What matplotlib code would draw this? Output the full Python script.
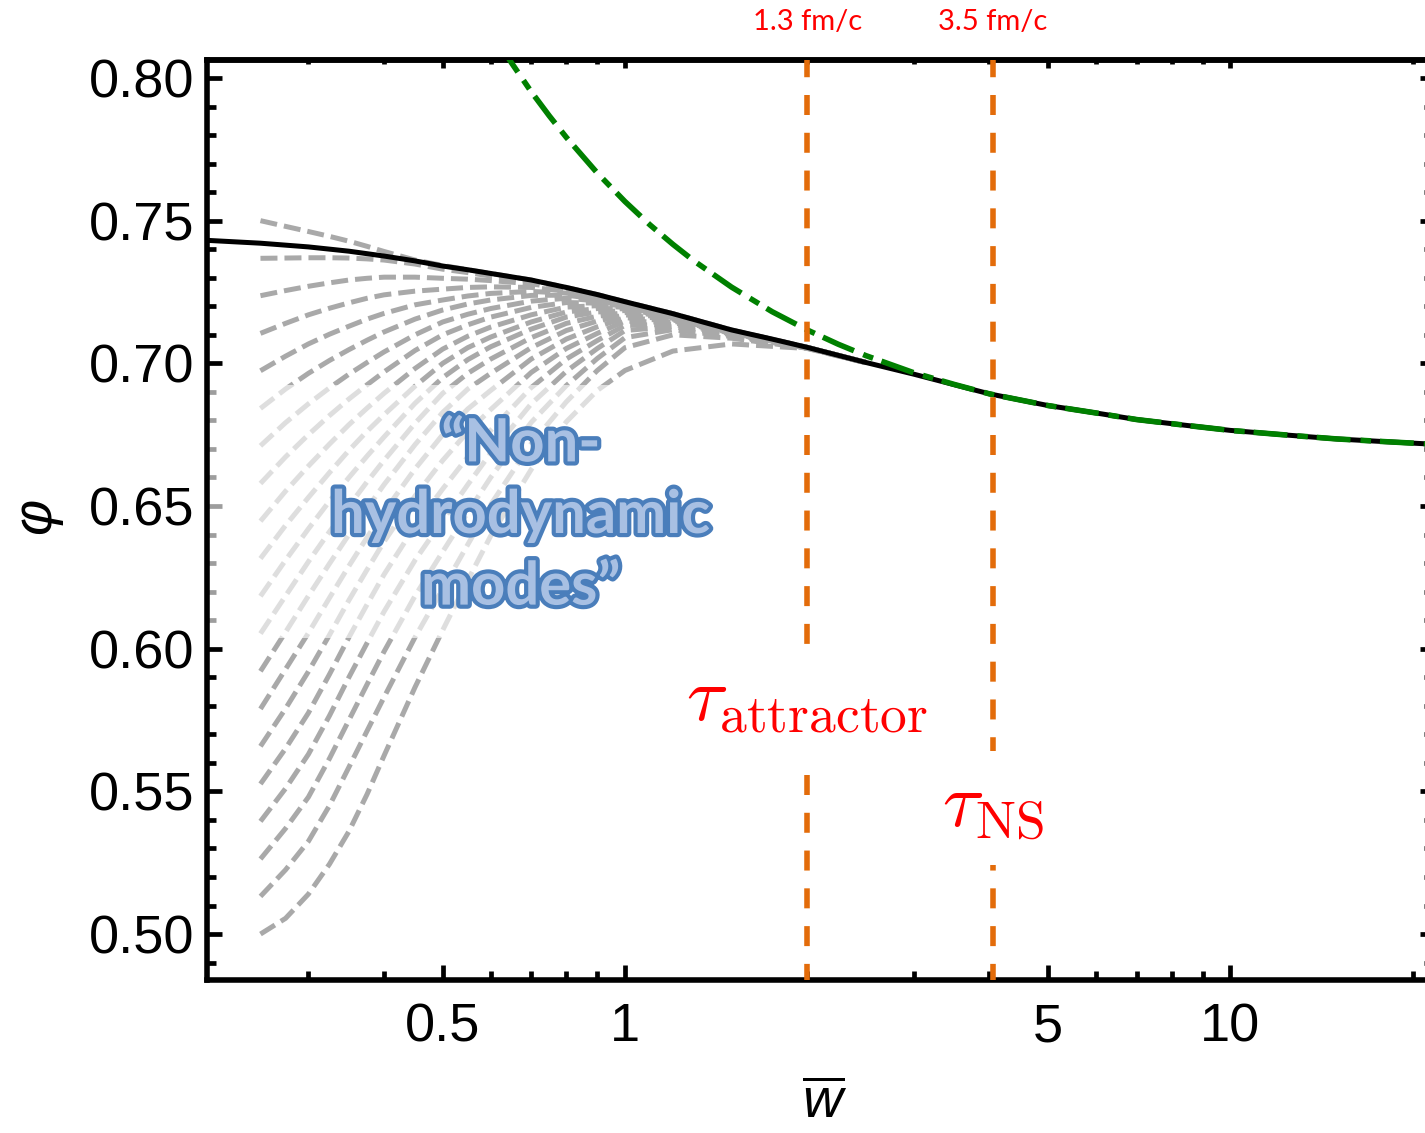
# phi vs w-bar: attractor, NS line and the non-hydro transients
import numpy as np
import matplotlib
matplotlib.use('Agg')
from matplotlib import pyplot as plt
from matplotlib import patheffects as pe
from matplotlib import transforms as mtrans
from matplotlib.patches import Rectangle
from matplotlib.ticker import FixedLocator, MultipleLocator, NullFormatter, FormatStrFormatter

plt.rcParams['font.family'] = ['Liberation Sans', 'DejaVu Sans']
plt.rcParams['mathtext.fontset'] = 'custom'
plt.rcParams['mathtext.it'] = 'Liberation Sans:italic'
plt.rcParams['mathtext.rm'] = 'Liberation Sans'

# --- data ---
w_att = [0.2, 0.25, 0.3, 0.35, 0.4, 0.45, 0.5, 0.55, 0.6, 0.7, 0.8, 0.9, 1.0, 1.2, 1.5,
         1.75, 2.0, 2.5, 3.0, 3.5, 4.0, 5.0, 6.0, 7.0, 8.5, 10.0, 12.5, 15.0, 17.5, 21.0]
phi_att = [0.7432, 0.7421, 0.7408, 0.7393, 0.7376, 0.7359, 0.7341, 0.7328, 0.7315,
           0.7292, 0.7266, 0.7241, 0.7216, 0.7174, 0.7117, 0.7085, 0.7056, 0.7003,
           0.6962, 0.6925, 0.6893, 0.6852, 0.6826, 0.6803, 0.6782, 0.6765, 0.6748,
           0.6735, 0.6727, 0.6718]

w_ns = [0.62, 0.65, 0.7, 0.75, 0.8, 0.9, 1.0, 1.1, 1.2, 1.3, 1.5, 1.75, 2.0, 2.25, 2.5,
        3.0, 3.5, 4.0, 5.0, 6.0, 7.0, 8.5, 10.0, 12.5, 15.0, 17.5, 21.0]
phi_ns = [0.8120, 0.8052, 0.7952, 0.7867, 0.7792, 0.7667, 0.7567, 0.7485, 0.7417,
          0.7359, 0.7267, 0.7181, 0.7117, 0.7067, 0.7027, 0.6967, 0.6926, 0.6893,
          0.6852, 0.6826, 0.6803, 0.6782, 0.6765, 0.6748, 0.6735, 0.6727, 0.6718]

w_grid = [0.25, 0.275, 0.3, 0.325, 0.35, 0.375, 0.4, 0.45, 0.5, 0.55, 0.6, 0.7, 0.8,
          0.9, 1.0, 1.2, 1.5, 2.0, 2.5]
gray_curves = [
    [0.7500, 0.7480, 0.7462, 0.7445, 0.7428, 0.7410, 0.7392, 0.7362, 0.7343, 0.7328, 0.7315, 0.7292, 0.7266, 0.7241, 0.7216, 0.7174, 0.7117, 0.7056, 0.7003],
    [0.7368, 0.7369, 0.7370, 0.7370, 0.7369, 0.7366, 0.7362, 0.7348, 0.7330, 0.7318, 0.7306, 0.7288, 0.7264, 0.7240, 0.7215, 0.7174, 0.7116, 0.7056, 0.7003],
    [0.7237, 0.7255, 0.7270, 0.7282, 0.7292, 0.7298, 0.7302, 0.7302, 0.7298, 0.7295, 0.7290, 0.7279, 0.7259, 0.7237, 0.7213, 0.7173, 0.7116, 0.7056, 0.7003],
    [0.7105, 0.7140, 0.7170, 0.7193, 0.7212, 0.7228, 0.7240, 0.7253, 0.7260, 0.7266, 0.7268, 0.7266, 0.7253, 0.7234, 0.7211, 0.7172, 0.7115, 0.7056, 0.7003],
    [0.6974, 0.7025, 0.7068, 0.7102, 0.7130, 0.7155, 0.7175, 0.7205, 0.7222, 0.7236, 0.7245, 0.7252, 0.7246, 0.7230, 0.7209, 0.7171, 0.7114, 0.7055, 0.7003],
    [0.6842, 0.6910, 0.6965, 0.7010, 0.7048, 0.7081, 0.7110, 0.7155, 0.7187, 0.7208, 0.7222, 0.7238, 0.7239, 0.7225, 0.7206, 0.7169, 0.7113, 0.7055, 0.7003],
    [0.6711, 0.6792, 0.6858, 0.6914, 0.6962, 0.7003, 0.7040, 0.7100, 0.7145, 0.7172, 0.7192, 0.7218, 0.7228, 0.7219, 0.7203, 0.7167, 0.7112, 0.7055, 0.7003],
    [0.6579, 0.6672, 0.6750, 0.6817, 0.6875, 0.6925, 0.6970, 0.7045, 0.7100, 0.7135, 0.7162, 0.7196, 0.7213, 0.7211, 0.7200, 0.7165, 0.7111, 0.7055, 0.7003],
    [0.6447, 0.6552, 0.6640, 0.6717, 0.6785, 0.6843, 0.6895, 0.6982, 0.7050, 0.7095, 0.7127, 0.7170, 0.7197, 0.7202, 0.7196, 0.7163, 0.7110, 0.7055, 0.7003],
    [0.6316, 0.6432, 0.6530, 0.6617, 0.6695, 0.6762, 0.6820, 0.6920, 0.7000, 0.7055, 0.7092, 0.7145, 0.7180, 0.7192, 0.7191, 0.7161, 0.7109, 0.7055, 0.7003],
    [0.6184, 0.6310, 0.6420, 0.6517, 0.6600, 0.6675, 0.6742, 0.6860, 0.6950, 0.7013, 0.7058, 0.7120, 0.7162, 0.7180, 0.7185, 0.7158, 0.7108, 0.7055, 0.7003],
    [0.6053, 0.6185, 0.6305, 0.6410, 0.6500, 0.6585, 0.6660, 0.6790, 0.6895, 0.6965, 0.7015, 0.7090, 0.7140, 0.7165, 0.7178, 0.7155, 0.7107, 0.7055, 0.7003],
    [0.5921, 0.6058, 0.6185, 0.6298, 0.6400, 0.6492, 0.6575, 0.6715, 0.6828, 0.6910, 0.6965, 0.7055, 0.7115, 0.7148, 0.7170, 0.7152, 0.7106, 0.7055, 0.7003],
    [0.5789, 0.5928, 0.6055, 0.6178, 0.6290, 0.6390, 0.6480, 0.6630, 0.6750, 0.6840, 0.6905, 0.7015, 0.7085, 0.7128, 0.7160, 0.7148, 0.7105, 0.7055, 0.7003],
    [0.5658, 0.5790, 0.5920, 0.6048, 0.6170, 0.6277, 0.6375, 0.6535, 0.6660, 0.6760, 0.6838, 0.6968, 0.7052, 0.7105, 0.7148, 0.7143, 0.7103, 0.7055, 0.7003],
    [0.5526, 0.5650, 0.5775, 0.5910, 0.6040, 0.6155, 0.6260, 0.6430, 0.6560, 0.6672, 0.6765, 0.6915, 0.7015, 0.7080, 0.7133, 0.7137, 0.7101, 0.7055, 0.7003],
    [0.5395, 0.5510, 0.5630, 0.5765, 0.5900, 0.6020, 0.6130, 0.6310, 0.6450, 0.6575, 0.6685, 0.6858, 0.6972, 0.7052, 0.7115, 0.7129, 0.7098, 0.7054, 0.7003],
    [0.5263, 0.5370, 0.5480, 0.5615, 0.5750, 0.5875, 0.5990, 0.6185, 0.6340, 0.6478, 0.6600, 0.6793, 0.6922, 0.7017, 0.7090, 0.7118, 0.7094, 0.7054, 0.7003],
    [0.5132, 0.5225, 0.5325, 0.5450, 0.5585, 0.5712, 0.5830, 0.6040, 0.6210, 0.6365, 0.6505, 0.6718, 0.6865, 0.6975, 0.7055, 0.7100, 0.7088, 0.7053, 0.7002],
    [0.5000, 0.5055, 0.5140, 0.5245, 0.5360, 0.5490, 0.5625, 0.5865, 0.6065, 0.6240, 0.6395, 0.6628, 0.6795, 0.6905, 0.6975, 0.7043, 0.7068, 0.7052, 0.7002],
]

w_marks = [2.0, 4.05]
mark_top = ['1.3 fm/c', '3.5 fm/c']
mark_tau = [r'$\tau_{\rm attractor}$', r'$\tau_{\rm NS}$']
mark_tau_y = [0.5815, 0.5443]

x_major = [0.5, 1, 5, 10]
x_labels = ['0.5', '1', '5', '10']
x_minor = [0.3, 0.4, 0.6, 0.7, 0.8, 0.9, 2, 3, 4, 6, 7, 8, 9, 20]

xlim = [0.204, 21.2]
ylim = [0.4839, 0.8063]

gray = '#a9a9a9'
orange = '#e36c0a'
green = '#008000'

fig = plt.figure(figsize=(14.25, 11.33), dpi=100)
ax = fig.add_axes([207/1425, 153/1133, 1221/1425, 920/1133])
ax.set_xscale('log')

for curve in gray_curves:
    ax.plot(w_grid, curve, color=gray, lw=3.6, ls=(0, (3.4, 1.4)), zorder=2)

# washed-out band behind the label
ax.add_patch(Rectangle((0.2, 0.6038), 1.6, 0.0886, facecolor='white', alpha=0.62,
                       edgecolor='none', zorder=2.5))

ax.plot(w_att, phi_att, color='black', lw=3.6, zorder=3)
ax.plot(w_ns, phi_ns, color=green, lw=4, ls=(0, (6.1, 1.8, 1.9, 1.6)), zorder=4)

top_tr = mtrans.blended_transform_factory(ax.transData, ax.transAxes)
for i in range(len(w_marks)):
    ax.plot([w_marks[i], w_marks[i]], [ylim[1], ylim[0]], color=orange, lw=4,
            ls=(0.5, (3.6, 3.2)), zorder=5)
    ax.text(w_marks[i], mark_tau_y[i], mark_tau[i], math_fontfamily='cm', fontsize=55,
            color='red', ha='center', va='center', zorder=6,
            bbox=dict(boxstyle='square,pad=0.28', fc='white', ec='none'))
    ax.text(w_marks[i], 1.0413, mark_top[i], transform=top_tr, fontsize=21, family='Lato',
            color='red', ha='center', va='center', clip_on=False)

ax.text(0.673, 0.6465, '\u201cNon-\nhydrodynamic\nmodes\u201d', ha='center', va='center',
        multialignment='center', fontsize=43, family='Lato', weight='bold',
        color='#a8c0e3', linespacing=1.4, zorder=7,
        path_effects=[pe.withStroke(linewidth=6, foreground='#4a7ebb')])

ax.set_xlim(xlim)
ax.set_ylim(ylim)

# --- ticks ---
ax.xaxis.set_major_locator(FixedLocator(x_major))
ax.xaxis.set_minor_locator(FixedLocator(x_minor))
ax.set_xticklabels(x_labels)
ax.xaxis.set_minor_formatter(NullFormatter())
ax.yaxis.set_major_locator(MultipleLocator(0.05))
ax.yaxis.set_minor_locator(MultipleLocator(0.01))
ax.yaxis.set_major_formatter(FormatStrFormatter('%.2f'))
ax.tick_params(which='both', direction='in', width=3.4, labelsize=39)
ax.tick_params(which='major', length=11)
ax.tick_params(which='minor', length=6.5)
ax.tick_params(axis='x', pad=16)
ax.tick_params(axis='y', pad=9)
for sp in ax.spines.values():
    sp.set_linewidth(4)

ident = (lambda v: v, lambda v: v)
top = ax.secondary_xaxis('top', functions=ident)
top.xaxis.set_major_locator(FixedLocator(x_major))
top.xaxis.set_minor_locator(FixedLocator(x_minor))
top.tick_params(which='both', direction='in', width=3.4, labeltop=False)
top.tick_params(which='major', length=6)
top.tick_params(which='minor', length=3)
top.spines['top'].set_linewidth(4)
right = ax.secondary_yaxis('right', functions=ident)
right.yaxis.set_major_locator(MultipleLocator(0.05))
right.yaxis.set_minor_locator(MultipleLocator(0.01))
right.tick_params(which='both', direction='in', width=3.4, labelright=False)
right.tick_params(which='major', length=6)
right.tick_params(which='minor', length=3)
right.spines['right'].set_linewidth(4)

ax.set_xlabel(r'$\overline{w}$', fontsize=40, va='top')
ax.xaxis.set_label_coords(0.506, -0.107)
ax.set_ylabel('\u03c6', fontsize=40, style='italic')
ax.yaxis.set_label_coords(-0.119, 0.505)

plt.savefig('out.png', dpi=100)
